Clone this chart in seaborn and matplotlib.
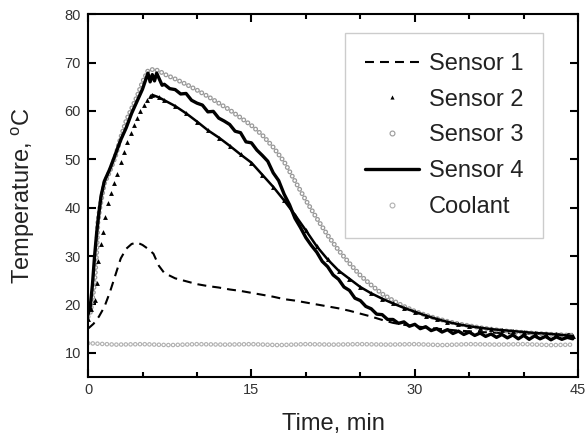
import pandas as pd
import matplotlib
matplotlib.use("Agg")
import matplotlib.pyplot as plt
from matplotlib.lines import Line2D
from matplotlib.ticker import MultipleLocator
import seaborn as sns

# values (time in min, temperature in oC)
s1_time = [0, 0.5, 1, 1.5, 2, 2.5, 3, 3.5, 4, 4.5, 5, 5.5, 6, 6.5, 7, 8, 9, 10, 11, 12, 13, 14,
           15, 16, 17, 18, 19, 20, 21, 22, 23, 24, 25, 26, 27, 28, 29, 30, 32, 34, 36, 38, 40,
           42, 44.5]
s1_temp = [15, 16, 17.5, 19.5, 22.5, 26, 29.5, 31.5, 32.5, 32.8, 32.3, 31.5, 30.5, 28, 26.5,
           25.4, 24.8, 24.2, 23.8, 23.5, 23.1, 22.8, 22.4, 22, 21.6, 21.1, 20.8, 20.4, 20, 19.6,
           19.2, 18.7, 18.1, 17.5, 16.8, 16.2, 15.8, 15.5, 15, 14.6, 14.3, 14.1, 14, 13.9, 13.9]

s2_time = [0, 0.3, 0.6, 0.8, 0.9, 1.2, 1.4, 1.6, 1.8, 2.1, 2.4, 2.7, 3.0, 3.3, 3.6, 3.9, 4.2,
           4.5, 4.8, 5.1, 5.4, 5.7, 5.9, 6.5, 7, 8, 9, 10, 11, 12, 13, 14, 15, 16, 17, 18, 19,
           20, 21, 22, 23, 24, 25, 26, 27, 28, 29, 30, 31, 32, 33, 34, 35, 36, 37, 38, 39, 40,
           41, 42, 43, 44, 44.5]
s2_temp = [17, 19, 21, 24.5, 29, 32.5, 35, 38, 41, 43, 45, 47, 49.5, 51.5, 53.5, 55.5, 57,
           58.5, 60, 61.2, 62.2, 63, 63.3, 62.8, 62.2, 61, 59.5, 57.8, 56, 54.5, 52.8, 51,
           49.3, 46.8, 44.3, 41.5, 38.5, 35.3, 32, 29.3, 27, 25.3, 23.6, 22.3, 21.2, 20.2,
           19.3, 18.5, 17.7, 17, 16.4, 15.9, 15.5, 15.2, 14.9, 14.7, 14.5, 14.3, 14.1, 14,
           13.8, 13.6, 13.5]

s3_time = [0, 0.2, 0.4, 0.6, 0.8, 0.9, 1.1, 1.5, 2, 2.5, 3, 3.5, 4, 4.5, 5, 5.5, 6, 6.5, 7, 8,
           9, 10, 11, 12, 13, 14, 15, 16, 17, 18, 19, 20, 21, 22, 23, 24, 25, 26, 27, 28, 29,
           30, 31, 32, 33, 34, 35, 36, 38, 40, 42, 44.5]
s3_temp = [17.5, 18.2, 21, 24.5, 31, 37, 40.2, 45, 47.5, 50.5, 54.5, 58, 60.5, 63, 66, 68.3,
           68.6, 68.3, 67.6, 66.6, 65.5, 64.3, 63, 61.6, 60.2, 58.6, 57, 55, 52.5, 49.5, 45.5,
           41.5, 37.8, 34.3, 31.2, 28.5, 26, 24, 22.2, 20.8, 19.6, 18.6, 17.8, 17.1, 16.5, 16,
           15.6, 15.2, 14.6, 14.2, 13.9, 13.6]

s4_time = [0, 0.2, 0.4, 0.6, 0.8, 1.0, 1.2, 1.5, 2.0, 2.5, 3.0, 3.5, 4.0, 4.5, 5.0, 5.3, 5.5,
           5.7, 5.9, 6.1, 6.3, 6.5, 6.8, 7.0, 7.5, 8, 8.5, 9, 9.5, 10, 10.5, 11, 11.5, 12,
           12.5, 13, 13.5, 14, 14.5, 15, 15.5, 16, 16.5, 17, 17.5, 18, 18.5, 19, 19.5, 20,
           20.5, 21, 21.5, 22, 22.5, 23, 23.5, 24, 24.5, 25, 25.5, 26, 26.5, 27, 27.5, 28,
           28.5, 29, 29.5, 30, 30.5, 31, 31.5, 32, 32.5, 33, 33.5, 34, 34.5, 35, 35.5, 36,
           36.5, 37, 37.5, 38, 38.5, 39, 39.5, 40, 40.5, 41, 41.5, 42, 42.5, 43, 43.5, 44, 44.5]
s4_temp = [18, 19.5, 24, 30, 35, 39, 42.5, 45.5, 48, 51, 54, 56.5, 59.5, 62, 64.5, 66.5, 67.8,
           66, 67.5, 66.2, 67.8, 66.8, 65.3, 65.5, 64.6, 64.4, 63.5, 63.6, 62.2, 61.6, 61.2,
           59.8, 59.9, 58.5, 57.9, 57.2, 55.8, 55.5, 53.6, 53.4, 51.9, 50.8, 49.6, 47.2, 45.6,
           42.8, 40.6, 37.8, 35.9, 33.8, 32.2, 30.8, 28.9, 27.8, 26.1, 25.2, 23.6, 22.9, 21.3,
           20.8, 19.6, 19.1, 18.0, 17.9, 16.9, 16.9, 16.1, 16.4, 15.5, 15.9, 15.0, 15.4, 14.6,
           15.0, 14.3, 14.8, 14.0, 14.5, 13.8, 14.3, 13.6, 14.1, 13.4, 13.9, 13.2, 13.8, 13.1,
           13.7, 12.9, 13.6, 12.8, 13.5, 12.9, 13.4, 12.7, 13.3, 12.8, 13.2, 12.9]

cool_time = [0, 2.5, 5, 7.5, 10, 12.5, 15, 17.5, 20, 22.5, 25, 27.5, 30, 32.5, 35, 37.5, 40,
             42.5, 44.5]
cool_temp = [12.0, 11.7, 11.8, 11.6, 11.8, 11.7, 11.8, 11.6, 11.8, 11.7, 11.8, 11.7, 11.8,
             11.6, 11.8, 11.7, 11.8, 11.6, 11.7]

sns.set_style("ticks")
plt.rcParams['font.family'] = ['Liberation Sans', 'DejaVu Sans']
plt.rcParams['text.color'] = '#222222'
plt.rcParams['axes.labelcolor'] = '#222222'
plt.rcParams['xtick.color'] = 'black'
plt.rcParams['ytick.color'] = 'black'
plt.rcParams['xtick.labelcolor'] = '#333333'
plt.rcParams['ytick.labelcolor'] = '#333333'

s1 = pd.DataFrame({'t': s1_time, 'T': s1_temp})
s2 = pd.DataFrame({'t': s2_time, 'T': s2_temp})
s3 = pd.DataFrame({'t': s3_time, 'T': s3_temp})
s4 = pd.DataFrame({'t': s4_time, 'T': s4_temp})
cool = pd.DataFrame({'t': cool_time, 'T': cool_temp})

fig = plt.figure(figsize=(5.87, 4.41), dpi=100)
ax = fig.add_axes([0.150, 0.145, 0.835, 0.823])

# open-circle chains drawn as round dots (grey) with a white core
ring = dict(dash_capstyle='round', solid_capstyle='round')
sns.lineplot(data=cool, x='t', y='T', ax=ax, sort=False, color='#b0b0b0', lw=3.4,
             linestyle=(0, (0.001, 1.0)), **ring)
sns.lineplot(data=cool, x='t', y='T', ax=ax, sort=False, color='white', lw=1.7,
             linestyle=(0, (0.002, 2.0)), **ring)

sns.lineplot(data=s1, x='t', y='T', ax=ax, sort=False, color='black', lw=1.5,
             linestyle=(0, (4.3, 2.9)))

sns.lineplot(data=s3, x='t', y='T', ax=ax, sort=False, color='#999999', lw=3.6,
             linestyle=(0, (0.001, 1.0)), **ring)
sns.lineplot(data=s3, x='t', y='T', ax=ax, sort=False, color='white', lw=1.8,
             linestyle=(0, (0.002, 2.0)), **ring)

# sensor 2: triangles, dense enough after the peak to read as a thick line
sns.lineplot(data=s2[s2['t'] >= 5.9], x='t', y='T', ax=ax, sort=False, color='black', lw=1.8)
sns.lineplot(data=s2, x='t', y='T', ax=ax, sort=False, color='black', lw=0,
             marker='^', markersize=3.5, markeredgewidth=0)

sns.lineplot(data=s4, x='t', y='T', ax=ax, sort=False, color='black', lw=2.4)

ax.set_xlim(0, 45)
ax.set_ylim(5, 80)
ax.xaxis.set_major_locator(MultipleLocator(15))
ax.xaxis.set_minor_locator(MultipleLocator(5))
ax.yaxis.set_major_locator(MultipleLocator(10))
ax.tick_params(which='both', direction='in', top=True, right=True, width=1.5)
ax.tick_params(which='major', length=6, labelsize=10.5)
ax.tick_params(axis='x', which='major', pad=4)
ax.tick_params(axis='y', which='major', pad=5)
ax.tick_params(which='minor', length=3.5)
for sp in ax.spines.values():
    sp.set_linewidth(1.5)
    sp.set_color('black')

ax.set_xlabel("Time, min", fontsize=17, labelpad=12)
ax.set_ylabel(r"Temperature, $\mathregular{^{o}}$C", fontsize=17, labelpad=20)

handles = [
    Line2D([], [], color='black', lw=1.5, linestyle=(0, (4.3, 2.9))),
    Line2D([], [], color='black', lw=0, marker='^', markersize=3, markeredgewidth=0),
    Line2D([], [], color='#999999', lw=0, marker='o', markersize=3.5, markerfacecolor='white',
           markeredgewidth=0.8),
    Line2D([], [], color='black', lw=2.4),
    Line2D([], [], color='#b0b0b0', lw=0, marker='o', markersize=3.5, markerfacecolor='white',
           markeredgewidth=0.8),
]
labels = ["Sensor 1", "Sensor 2", "Sensor 3", "Sensor 4", "Coolant"]
leg = ax.legend(handles, labels, loc='upper right', bbox_to_anchor=(0.929, 0.948),
                borderaxespad=0, fontsize=17, frameon=True, fancybox=False, framealpha=1,
                edgecolor='#cccccc', handlelength=2.3, handletextpad=0.4, labelspacing=0.58,
                borderpad=0.85)
leg.get_frame().set_linewidth(1.0)

fig.savefig("out.png", dpi=100)
